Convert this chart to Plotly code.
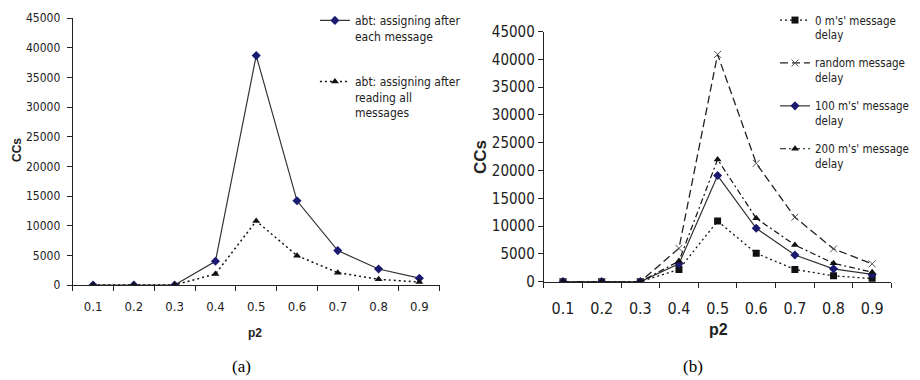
import plotly.graph_objects as go

p2 = ["0.1", "0.2", "0.3", "0.4", "0.5", "0.6", "0.7", "0.8", "0.9"]

# (a)
a_each = [0, 0, 0, 4000, 38700, 14200, 5800, 2700, 1150]
a_all = [0, 0, 0, 1850, 10800, 4950, 2080, 960, 500]

# (b)
b_0ms = [0, 0, 0, 2200, 10900, 5100, 2200, 1050, 550]
b_random = [0, 0, 0, 6000, 40900, 21300, 11600, 5900, 3200]
b_100ms = [0, 0, 0, 3200, 19100, 9600, 4800, 2300, 1300]
b_200ms = [0, 0, 0, 3700, 22000, 11400, 6600, 3300, 1700]

yticks = [0, 5000, 10000, 15000, 20000, 25000, 30000, 35000, 40000, 45000]

NARROW = "Liberation Sans Narrow, Arial Narrow, DejaVu Sans Condensed, sans-serif"
NAVY = "#1a1a70"
LINE = "#333333"

fig = go.Figure()

# ---- (a)
fig.add_trace(go.Scatter(x=p2, y=a_each, mode="lines+markers", xaxis="x", yaxis="y",
                         name="abt: assigning after<br>each message", legend="legend", legendgroup="a1",
                         line=dict(color=LINE, width=1.2),
                         marker=dict(symbol="diamond", size=7, color=NAVY)))
fig.add_trace(go.Scatter(x=p2, y=a_all, mode="lines+markers", xaxis="x", yaxis="y",
                         name="abt: assigning after<br>reading all<br>messages", legend="legend", legendgroup="a2",
                         line=dict(color="#111111", width=1.5, dash="2px,3px"),
                         marker=dict(symbol="triangle-up", size=7, color="#111111")))

# ---- (b)
fig.add_trace(go.Scatter(x=p2, y=b_0ms, mode="lines+markers", xaxis="x2", yaxis="y2",
                         name="0 m's' message<br>delay", legend="legend2", legendgroup="b1",
                         line=dict(color="#111111", width=1.3, dash="2px,3px"),
                         marker=dict(symbol="square", size=7, color="#111111")))
fig.add_trace(go.Scatter(x=p2, y=b_random, mode="lines+markers", xaxis="x2", yaxis="y2",
                         name="random message<br>delay", legend="legend2", legendgroup="b2",
                         line=dict(color="#222222", width=1.3, dash="8px,4px"),
                         marker=dict(symbol="x-thin", size=7, color="#555555",
                                     line=dict(color="#555555", width=1))))
fig.add_trace(go.Scatter(x=p2, y=b_100ms, mode="lines+markers", xaxis="x2", yaxis="y2",
                         name="100 m's' message<br>delay", legend="legend2", legendgroup="b3",
                         line=dict(color=LINE, width=1.2),
                         marker=dict(symbol="diamond", size=7, color=NAVY)))
fig.add_trace(go.Scatter(x=p2, y=b_200ms, mode="lines+markers", xaxis="x2", yaxis="y2",
                         name="200 m's' message<br>delay", legend="legend2", legendgroup="b4",
                         line=dict(color="#111111", width=1.2, dash="6px,3px,2px,3px"),
                         marker=dict(symbol="triangle-up", size=7, color="#111111")))

axis_common = dict(showgrid=False, zeroline=False, showline=True, linecolor="#222222",
                   linewidth=1, ticks="outside", tickcolor="#222222", ticklen=5,
                   automargin=False)

fig.update_layout(
    width=920, height=380,
    margin=dict(l=0, r=0, t=0, b=0, autoexpand=False),
    paper_bgcolor="white", plot_bgcolor="white",
    font=dict(family=NARROW, color="#222222"),
    xaxis=dict(domain=[0.079, 0.478], anchor="y", type="category", categoryorder="array",
               categoryarray=p2, range=[-0.5, 8.5], tickson="boundaries",
               ticklabelstandoff=9, tickfont=dict(size=13), **axis_common),
    yaxis=dict(domain=[0.25, 0.952], anchor="x", range=[0, 45000], tickvals=yticks,
               ticklabelstandoff=4, tickformat="d", tickfont=dict(size=12), **axis_common),
    xaxis2=dict(domain=[0.591, 0.969], anchor="y2", type="category", categoryorder="array",
                categoryarray=p2, range=[-0.5, 8.5], tickson="boundaries",
                ticklabelstandoff=12, tickfont=dict(size=16), **axis_common),
    yaxis2=dict(domain=[0.2588, 0.9167], anchor="x2", range=[0, 45000], tickvals=yticks,
                tickformat="d", tickfont=dict(size=15), **axis_common),
    legend=dict(x=0.3423, y=0.984, xanchor="left", yanchor="top", valign="top",
                font=dict(size=12, family=NARROW), tracegroupgap=27,
                bgcolor="rgba(0,0,0,0)", itemwidth=30),
    legend2=dict(x=0.8424, y=0.984, xanchor="left", yanchor="top", valign="top",
                 font=dict(size=11.5, family=NARROW), tracegroupgap=10,
                 bgcolor="rgba(0,0,0,0)", itemwidth=30),
    annotations=[
        dict(text="<b>CCs</b>", x=17, y=150, showarrow=False,
             textangle=-90, font=dict(size=12, family="Liberation Sans, Arial, sans-serif")),
        dict(text="<b>p2</b>", x=255, y=333, showarrow=False,
             font=dict(size=12, family="Liberation Sans, Arial, sans-serif")),
        dict(text="<b>CCs</b>", x=480, y=157, showarrow=False, textangle=-90,
             font=dict(size=17, family="Liberation Sans, Arial, sans-serif")),
        dict(text="<b>p2</b>", x=718, y=329, showarrow=False,
             font=dict(size=16, family="Liberation Sans, Arial, sans-serif")),
        dict(text="(a)", x=242, y=366, showarrow=False,
             font=dict(size=17, family="Liberation Serif, Times New Roman, serif", color="#000000")),
        dict(text="(b)", x=693, y=366, showarrow=False,
             font=dict(size=17, family="Liberation Serif, Times New Roman, serif", color="#000000")),
    ],
)

# convert pixel annotation positions to paper coords
for ann in fig.layout.annotations:
    ann.x = ann.x / 920
    ann.y = 1 - ann.y / 380
    ann.xref = "paper"
    ann.yref = "paper"
    ann.xanchor = "center"
    ann.yanchor = "middle"

fig.write_html("out.html", config={"displayModeBar": False},
               post_script="document.body.style.margin='0';document.body.style.overflow='hidden';")
